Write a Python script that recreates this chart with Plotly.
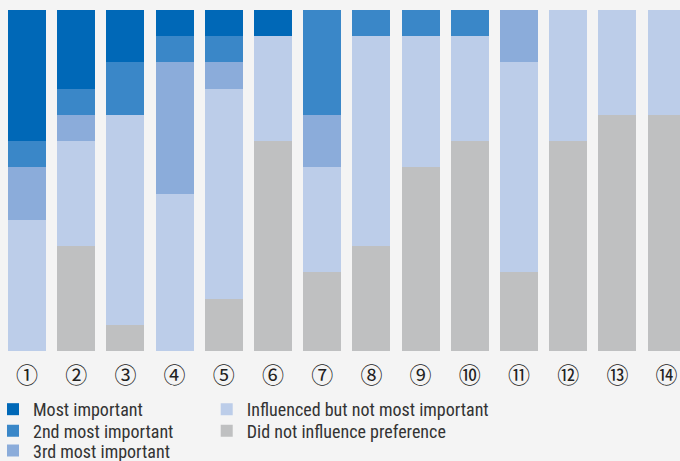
import plotly.graph_objects as go

categories = ["①", "②", "③", "④", "⑤", "⑥", "⑦", "⑧", "⑨", "⑩", "⑪", "⑫", "⑬", "⑭"]
most_important = [5, 3, 2, 1, 1, 1, 0, 0, 0, 0, 0, 0, 0, 0]
second_important = [1, 1, 2, 1, 1, 0, 4, 1, 1, 1, 0, 0, 0, 0]
third_important = [2, 1, 0, 5, 1, 0, 2, 0, 0, 0, 2, 0, 0, 0]
influenced = [5, 4, 8, 6, 8, 4, 4, 8, 5, 4, 8, 5, 4, 4]
not_influenced = [0, 4, 1, 0, 2, 8, 3, 4, 7, 8, 3, 8, 9, 9]

# (name, values, colour, legend id, legend x [paper], legend y [paper])
series = [
    ("Did not influence preference", not_influenced, "#BFC0C1", "legend5", 0.304, -0.2345),
    ("Influenced but not most important", influenced, "#BCCDE9", "legend4", 0.304, -0.1715),
    ("3rd most important", third_important, "#8BACDA", "legend3", -0.0103, -0.293),
    ("2nd most important", second_important, "#3A87C8", "legend2", -0.0103, -0.2345),
    ("Most important", most_important, "#0068B7", "legend", -0.0103, -0.1715),
]

x = list(range(len(categories)))
fig = go.Figure()
legfont = dict(family="Liberation Sans Narrow, Roboto Condensed, Liberation Sans, sans-serif",
               size=18, color="#333333")
legends = {}
for name, vals, color, leg, lx, ly in series:
    fig.add_trace(go.Bar(x=x, y=vals, name=name, marker=dict(color=color, line=dict(width=0)),
                         legend=leg, hoverinfo="skip"))
    legends[leg] = dict(x=lx, y=ly, xanchor="left", yanchor="middle", orientation="v",
                        font=legfont, bgcolor="rgba(0,0,0,0)", itemwidth=30)

fig.update_layout(
    width=680, height=461,
    margin=dict(l=0, r=0, t=10, b=110, autoexpand=False),
    paper_bgcolor="#F4F4F4", plot_bgcolor="#F4F4F4",
    barmode="stack", bargap=0.228,
    showlegend=True,
    xaxis=dict(range=[-0.549, 13.272], tickmode="array", tickvals=x, ticktext=categories,
               showgrid=False, zeroline=False, showline=False, ticks="",
               tickfont=dict(family="Noto Sans CJK JP", size=22, color="#222222"),
               ticklabelstandoff=9),
    yaxis=dict(range=[0, 13], visible=False, showgrid=False, zeroline=False),
    **legends,
)
fig.write_html("out.html")
